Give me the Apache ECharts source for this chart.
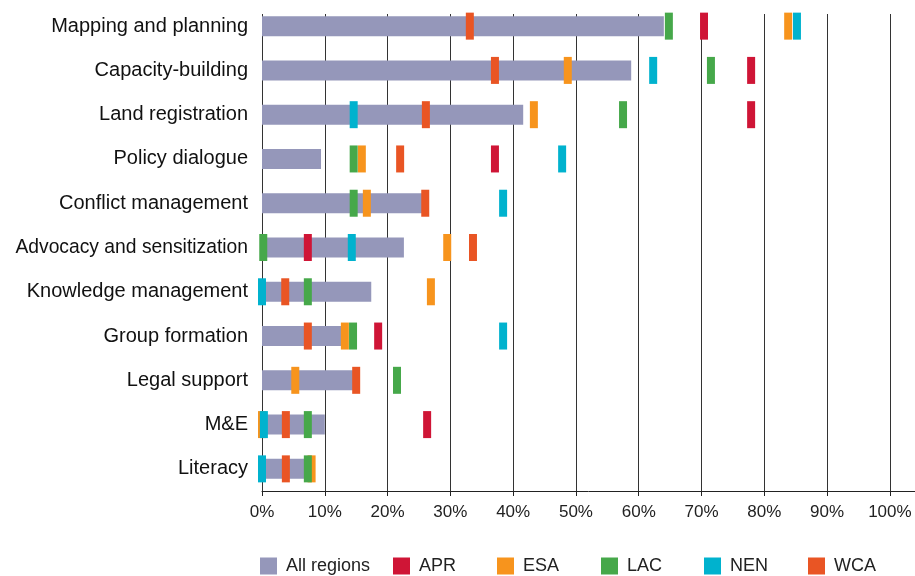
<!DOCTYPE html>
<html>
<head>
<meta charset="utf-8">
<script src="https://cdn.jsdelivr.net/npm/echarts@6/dist/echarts.min.js"></script>
<style>
html,body{margin:0;padding:0;background:#fff;}
#chart{width:915px;height:576px;}
</style>
</head>
<body>
<div id="chart"></div>
<script>
const categories = ['Mapping and planning','Capacity-building','Land registration','Policy dialogue','Conflict management','Advocacy and sensitization','Knowledge management','Group formation','Legal support','M&E','Literacy'];
const xTicks = [0,10,20,30,40,50,60,70,80,90,100];
const allRegions = [64.0, 58.8, 41.6, 9.4, 25.5, 22.6, 17.4, 13.0, 14.6, 10.0, 7.5];
const APR = [70.4, 77.9, 77.9, 37.1, null, 7.3, null, 18.5, null, 26.3, null];
const ESA = [83.8, 48.7, 43.3, 15.9, 16.7, 29.5, 26.9, 13.2, 5.3, 0, 7.9];
const LAC = [64.8, 71.5, 57.5, 14.6, 14.6, 0.2, 7.3, 14.5, 21.5, 7.3, 7.3];
const NEN = [85.2, 62.3, 14.6, 47.8, 38.4, 14.3, 0, 38.4, null, 0.3, 0];
const WCA = [33.1, 37.1, 26.1, 22.0, 26.0, 33.6, 3.7, 7.3, 15.0, 3.8, 3.8];

const markerSeries = [
  {name:'APR', data:APR, color:'#cf1536'},
  {name:'ESA', data:ESA, color:'#f7941d'},
  {name:'LAC', data:LAC, color:'#46a84a'},
  {name:'NEN', data:NEN, color:'#00b2ce'},
  {name:'WCA', data:WCA, color:'#e95524'}
];
const legendItems = [
  {name:'All regions', left:260},
  {name:'APR', left:393},
  {name:'ESA', left:497},
  {name:'LAC', left:601},
  {name:'NEN', left:704},
  {name:'WCA', left:808}
];

const font = '"Liberation Sans", Arial, Helvetica, sans-serif';
const chart = echarts.init(document.getElementById('chart'), null, {renderer:'canvas'});

const series = [{
  name:'All regions',
  type:'bar',
  data: allRegions,
  barWidth: 20,
  itemStyle:{color:'#9597ba'},
  z:2
}];
markerSeries.forEach(s => {
  series.push({
    name: s.name,
    type:'scatter',
    symbol:'rect',
    symbolSize:[8,27],
    itemStyle:{color:s.color, opacity:1},
    data: s.data.map((v,i) => v === null ? null : [v, i]).filter(d => d !== null),
    z:3
  });
});

chart.setOption({
  animation:false,
  backgroundColor:'#fff',
  grid:{left:262, right:0, top:4, bottom:85, containLabel:false},
  xAxis:{
    type:'value',
    min:0, max:104, interval:10,
    axisLine:{show:true, lineStyle:{color:'#222', width:1}},
    axisTick:{show:true, length:5, lineStyle:{color:'#222'}, customValues: xTicks},
    axisLabel:{customValues: xTicks, formatter: v => v + '%', color:'#222', fontSize:17, fontFamily:font, margin:13},
    splitLine:{show:true, lineStyle:{color:'#333', width:1}}
  },
  yAxis:{
    type:'category',
    data: categories,
    inverse:true,
    axisLine:{show:false},
    axisTick:{show:false},
    axisLabel:{
      color:'#111', fontSize:20, fontFamily:font, margin:14,
      formatter: v => v.length > 22 ? '{s|' + v + '}' : v,
      rich:{s:{fontSize:19.3, fontFamily:font, color:'#111'}}
    }
  },
  legend: legendItems.map(l => ({
    data:[{name:l.name, icon:'rect'}],
    left:l.left, top:557,
    padding:0,
    itemWidth:17, itemHeight:17,
    textStyle:{color:'#222', fontSize:18, fontFamily:font, padding:[0,0,0,4]},
    selectedMode:false
  })),
  graphic:[{
    type:'rect', z:1,
    shape:{x:255, y:0, width:660, height:14},
    style:{fill:'#fff'}
  }],
  series: series
});
</script>
</body>
</html>
